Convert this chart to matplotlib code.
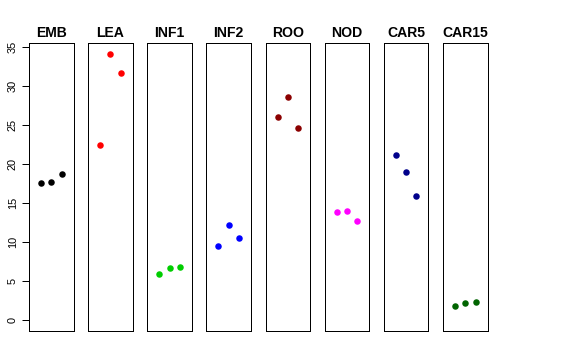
import matplotlib.pyplot as plt

plt.rcParams["font.family"] = ["Liberation Sans", "DejaVu Sans"]

groups = ["EMB", "LEA", "INF1", "INF2", "ROO", "NOD", "CAR5", "CAR15"]
colors = ["black", "#FF0000", "#00CD00", "#0000FF", "#8B0000", "#FF00FF", "#00008B", "#006400"]
values = [
    [17.6, 17.7, 18.7],
    [22.5, 34.2, 31.7],
    [5.9, 6.75, 6.87],
    [9.5, 12.26, 10.6],
    [26.07, 28.6, 24.7],
    [13.9, 14.05, 12.7],
    [21.2, 19.0, 15.97],
    [1.83, 2.2, 2.3],
]
positions = [1, 2, 3]
yticks = [0, 5, 10, 15, 20, 25, 30, 35]

W, H = 576, 360
fig = plt.figure(figsize=(W / 72, H / 72), dpi=72)

left0, step, pw = 29, 59.15, 44.5
top, bottom = 43, 331

for i, (name, col, vals) in enumerate(zip(groups, colors, values)):
    x0 = left0 + i * step
    ax = fig.add_axes([x0 / W, 1 - bottom / H, pw / W, (bottom - top) / H])
    ax.plot(positions, vals, "o", color=col, markersize=6.5, markeredgewidth=0)
    ax.set_xlim(-0.16, 4.16)
    ax.set_ylim(-1.37, 35.55)
    ax.set_xticks([])
    ax.set_title(name, fontsize=14, fontweight="bold", pad=6)
    for s in ax.spines.values():
        s.set_linewidth(1.0)
        s.set_color("black")
    if i == 0:
        ax.set_yticks(yticks)
        ax.tick_params(axis="y", length=7, width=1, labelsize=11, pad=4)
        for lab in ax.get_yticklabels():
            lab.set_rotation(90)
            lab.set_va("center")
    else:
        ax.set_yticks([])

fig.savefig("out.png", dpi=72)
